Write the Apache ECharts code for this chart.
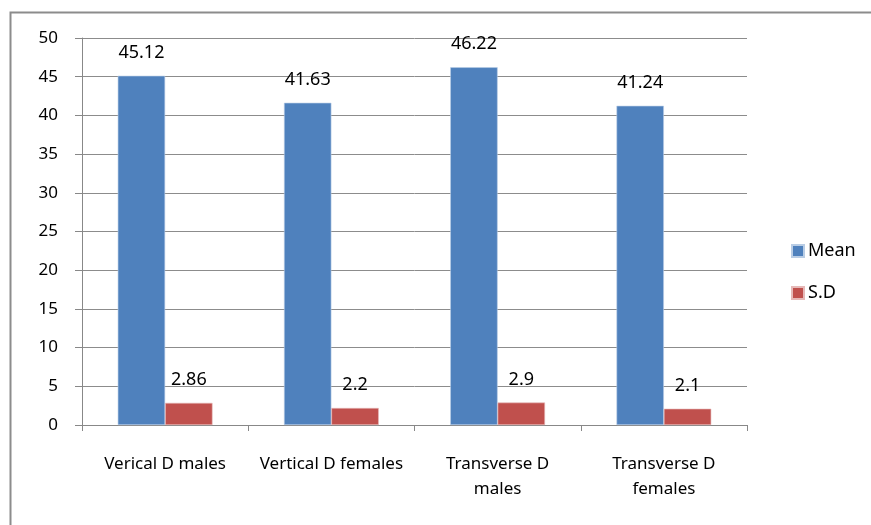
<!DOCTYPE html>
<html>
<head>
<meta charset="utf-8">
<script src="https://cdn.jsdelivr.net/npm/echarts@6/dist/echarts.min.js"></script>
<style>
  html, body { margin: 0; padding: 0; background: #fff; }
  #chart { width: 871px; height: 525px; }
</style>
</head>
<body>
<div id="chart"></div>
<script>
// data
var categories = ['Verical D males', 'Vertical D females', 'Transverse D\nmales', 'Transverse D\nfemales']
var meanValues = [45.12, 41.63, 46.22, 41.24]
var sdValues = [2.86, 2.2, 2.9, 2.1]
var yTicks = [0, 5, 10, 15, 20, 25, 30, 35, 40, 45, 50]

var font = 'Noto Sans'
var chart = echarts.init(document.getElementById('chart'))

chart.setOption({
  animation: false,
  textStyle: { fontFamily: font },
  graphic: [{
    type: 'rect',
    left: 8,
    top: 10,
    shape: { width: 900, height: 600 },
    style: { fill: 'none', stroke: '#8c8c8c', lineWidth: 2 },
    silent: true
  }],
  grid: {
    left: 82,
    right: 124,
    top: 38,
    bottom: 100
  },
  legend: {
    orient: 'vertical',
    left: 786,
    top: 237,
    itemWidth: 12,
    itemHeight: 12,
    itemGap: 24,
    icon: 'rect',
    textStyle: { fontSize: 18, color: '#000', fontFamily: font, padding: [0, 0, 0, -1] },
    data: ['Mean', 'S.D']
  },
  xAxis: {
    type: 'category',
    data: categories,
    axisLine: { lineStyle: { color: '#888', width: 1 } },
    axisTick: { show: true, length: 6, lineStyle: { color: '#888' } },
    axisLabel: {
      color: '#000',
      fontSize: 17,
      margin: 27,
      lineHeight: 25,
      interval: 0,
      fontFamily: font
    }
  },
  yAxis: {
    type: 'value',
    min: yTicks[0],
    max: yTicks[yTicks.length - 1],
    interval: 5,
    axisLine: { show: true, lineStyle: { color: '#888', width: 1 } },
    axisTick: { show: true, inside: false, length: 7, lineStyle: { color: '#888' } },
    splitLine: { lineStyle: { color: '#8c8c8c', width: 1 } },
    axisLabel: { color: '#000', fontSize: 17, margin: 24, fontFamily: font }
  },
  series: [{
    name: 'Mean',
    type: 'bar',
    data: meanValues,
    barGap: '0%',
    barCategoryGap: '43%',
    itemStyle: { color: '#4f81bd', borderColor: '#b9cde5', borderWidth: 0.6 },
    label: {
      show: true,
      position: 'top',
      distance: 14,
      color: '#000',
      fontSize: 18,
      fontFamily: font
    }
  }, {
    name: 'S.D',
    type: 'bar',
    data: sdValues,
    barGap: '0%',
    barCategoryGap: '43%',
    itemStyle: { color: '#c0504d', borderColor: '#e6b9b8', borderWidth: 0.6 },
    label: {
      show: true,
      position: 'top',
      distance: 14,
      color: '#000',
      fontSize: 18,
      fontFamily: font
    }
  }]
})
</script>
</body>
</html>
